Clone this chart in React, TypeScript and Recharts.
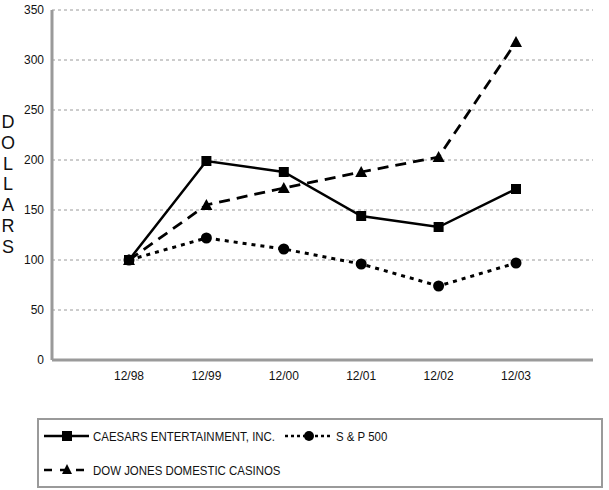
import { LineChart, Line, XAxis, YAxis, CartesianGrid, Legend } from 'recharts';

const periods = ['12/98', '12/99', '12/00', '12/01', '12/02', '12/03'];
const caesars = [100, 199, 188, 144, 133, 171];
const sp500 = [100, 122, 111, 96, 74, 97];
const dowCasinos = [100, 155, 172, 188, 203, 318];
const yTicks = [0, 50, 100, 150, 200, 250, 300, 350];

const data = periods.map((p, i) => ({
  period: p,
  caesars: caesars[i],
  sp500: sp500[i],
  dow: dowCasinos[i],
}));

const FONT = '"Liberation Sans", Arial, sans-serif';
const BORDER = '#9a9a9a';

const Square = (props: any) => {
  const { cx, cy, index } = props;
  return <rect key={`sq-${index}`} x={cx - 5} y={cy - 5} width={10} height={10} fill="#000" />;
};

const Circle = (props: any) => {
  const { cx, cy, index } = props;
  return <circle key={`ci-${index}`} cx={cx} cy={cy} r={5.5} fill="#000" />;
};

const Triangle = (props: any) => {
  const { cx, cy, index } = props;
  return <path key={`tr-${index}`} d={`M${cx},${cy - 6} L${cx + 6},${cy + 5} L${cx - 6},${cy + 5} Z`} fill="#000" />;
};

const DollarsLabel = (props: any) => {
  const letters = 'DOLLARS'.split('');
  const x = (props.viewBox?.x ?? 0) + 8;
  return (
    <text x={x} y={128} textAnchor="middle" fontFamily={FONT} fontSize={18} fill="#111">
      {letters.map((l, i) => (
        <tspan key={i} x={x} y={128 + i * 20.8}>{l}</tspan>
      ))}
    </text>
  );
};

const textStyle = (left: number, top: number): React.CSSProperties => ({
  position: 'absolute',
  left,
  top,
  whiteSpace: 'nowrap',
  transform: 'scaleX(0.88)',
  transformOrigin: 'left center',
});

const LegendBox = () => (
  <div
    style={{
      width: 562,
      height: 66,
      border: `2px solid ${BORDER}`,
      fontFamily: FONT,
      fontSize: 13,
      lineHeight: '15px',
      color: '#111',
      position: 'relative',
    }}
  >
    <svg width={562} height={66} style={{ position: 'absolute', left: 0, top: 0 }}>
      <line x1={5} y1={16} x2={50} y2={16} stroke="#000" strokeWidth={2.5} />
      <rect x={23} y={11} width={10} height={10} fill="#000" />
      <line x1={246} y1={16} x2={292} y2={16} stroke="#000" strokeWidth={2.5} strokeDasharray="3 3" />
      <circle cx={270} cy={16} r={5} fill="#000" />
      <line x1={5} y1={50} x2={50} y2={50} stroke="#000" strokeWidth={2.5} strokeDasharray="8 8" />
      <path d="M28,44 L33,54 L23,54 Z" fill="#000" />
    </svg>
    <span style={textStyle(54, 9)}>CAESARS ENTERTAINMENT, INC.</span>
    <span style={textStyle(297, 9)}>S &amp; P 500</span>
    <span style={textStyle(54, 43)}>DOW JONES DOMESTIC CASINOS</span>
  </div>
);

export default function App() {
  return (
    <div style={{ position: 'absolute', left: 0, top: 0, width: 609, height: 490, background: '#fff' }}>
      <LineChart width={609} height={490} data={data} margin={{ top: 10, right: 16, left: 0, bottom: 100 }}>
        <CartesianGrid vertical={false} stroke={BORDER} strokeDasharray="3 3" />
        <XAxis
          dataKey="period"
          padding={{ left: 77, right: 77 }}
          height={30}
          tickLine={false}
          tickMargin={5}
          axisLine={{ stroke: BORDER, strokeWidth: 3 }}
          tick={{ fontSize: 12, fill: '#111', fontFamily: FONT }}
        />
        <XAxis xAxisId="top" orientation="top" dataKey="period" height={0} tick={false} tickLine={false} axisLine={{ stroke: BORDER, strokeWidth: 2.5 }} />
        <YAxis
          domain={[0, 350]}
          ticks={yTicks}
          width={52}
          tickLine={false}
          axisLine={{ stroke: BORDER, strokeWidth: 3 }}
          tick={{ fontSize: 12, fill: '#111', fontFamily: FONT }}
          label={<DollarsLabel />}
        />
        <YAxis yAxisId="right" orientation="right" domain={[0, 350]} width={0} tick={false} tickLine={false} axisLine={{ stroke: BORDER, strokeWidth: 2.5 }} />
        <Legend
          layout="horizontal"
          verticalAlign="middle"
          align="center"
          wrapperStyle={{ position: 'absolute', left: 37, top: 418, width: 566, height: 70 }}
          content={() => <LegendBox />}
        />
        <Line dataKey="sp500" stroke="#000" strokeWidth={3} strokeDasharray="4 5" dot={Circle} isAnimationActive={false} />
        <Line dataKey="dow" stroke="#000" strokeWidth={2.8} strokeDasharray="11 7" dot={Triangle} isAnimationActive={false} />
        <Line dataKey="caesars" stroke="#000" strokeWidth={2.5} dot={Square} isAnimationActive={false} />
      </LineChart>
    </div>
  );
}
